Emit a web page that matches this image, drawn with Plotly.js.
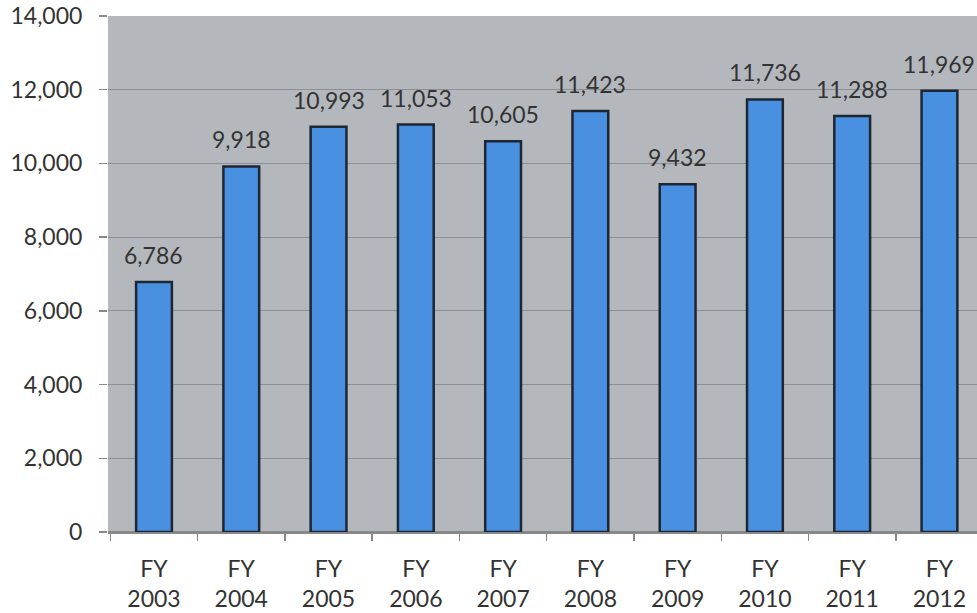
<!DOCTYPE html>
<html><head><meta charset="utf-8">
<script src="https://cdn.plot.ly/plotly-3.0.1.min.js"></script>
<style>html,body{margin:0;padding:0;background:#fff}#chart{width:977px;height:613px}</style>
</head><body><div id="chart"></div>
<script>
const categories = ["FY<br>2003","FY<br>2004","FY<br>2005","FY<br>2006","FY<br>2007","FY<br>2008","FY<br>2009","FY<br>2010","FY<br>2011","FY<br>2012"];
const values = [6786, 9918, 10993, 11053, 10605, 11423, 9432, 11736, 11288, 11969];
const yTicks = [0, 2000, 4000, 6000, 8000, 10000, 12000, 14000];

const FONT = "Lato, 'Open Sans', sans-serif";
const trace = {
  type: "bar",
  x: categories,
  y: values,
  width: 0.41,
  marker: {color: "#4a90e0", line: {color: "#1c2733", width: 2.5}},
  hoverinfo: "none"
};
const annotations = categories.map((c, i) => ({
  x: c, y: values[i], xref: "x", yref: "y",
  text: values[i].toLocaleString("en-US"),
  showarrow: false, yanchor: "bottom", yshift: 11,
  font: {family: FONT, size: 23, color: "#333"}
}));
const layout = {
  width: 977, height: 613,
  margin: {l: 108, r: 0, t: 16, b: 81},
  paper_bgcolor: "#ffffff",
  plot_bgcolor: "#b4b8bd",
  showlegend: false,
  font: {family: FONT, size: 23, color: "#333"},
  annotations: annotations,
  xaxis: {
    type: "category",
    range: [-0.527, 9.43],
    tickson: "boundaries",
    ticks: "outside", ticklen: 7, tickcolor: "#888", tickwidth: 1.5,
    showline: true, linecolor: "#888", linewidth: 1.5,
    showgrid: false,
    ticklabelstandoff: 16,
    tickfont: {size: 23, color: "#333"}
  },
  yaxis: {
    range: [0, 14000],
    tickvals: yTicks,
    ticktext: yTicks.map(v => v.toLocaleString("en-US")),
    ticks: "outside", ticklen: 8, tickcolor: "#888", tickwidth: 1.5,
    showline: false,
    showgrid: true, gridcolor: "#8c8f93", gridwidth: 1,
    zeroline: true, zerolinecolor: "#888", zerolinewidth: 1.5,
    ticklabelstandoff: 12,
    tickfont: {size: 23, color: "#333"},
    automargin: false
  }
};
Plotly.newPlot("chart", [trace], layout, {displayModeBar: false, staticPlot: true});
</script>
</body></html>
